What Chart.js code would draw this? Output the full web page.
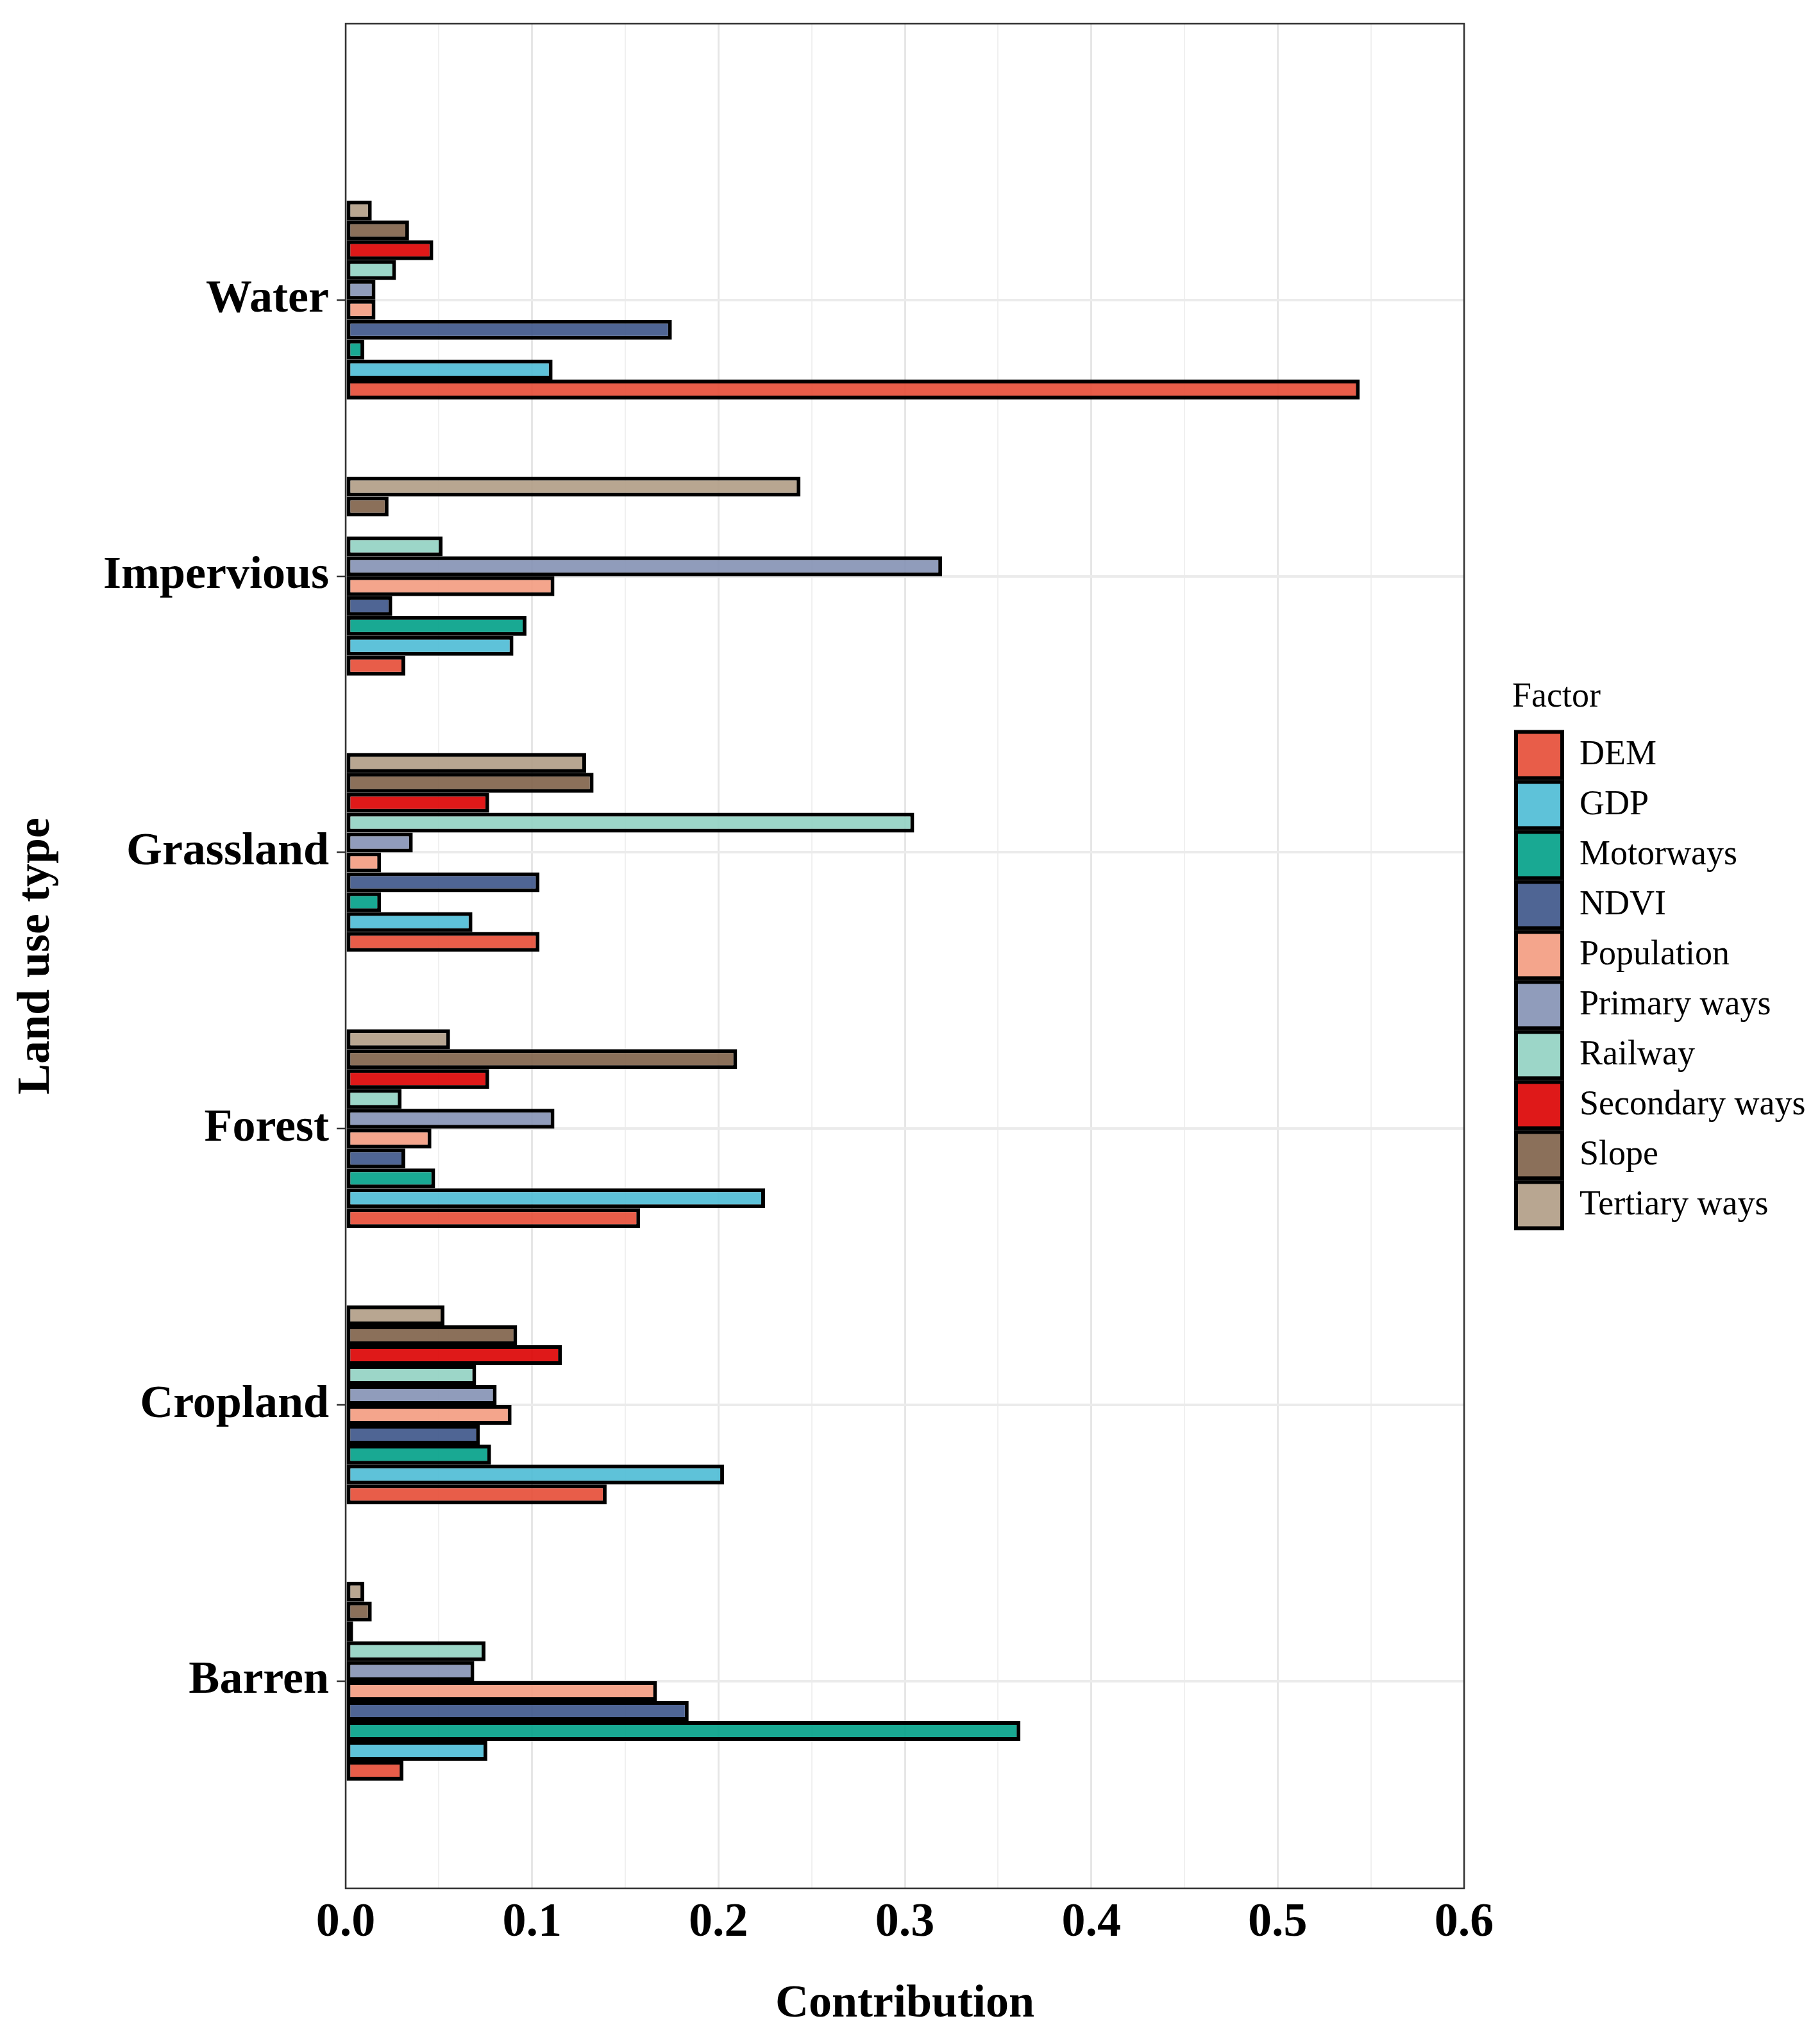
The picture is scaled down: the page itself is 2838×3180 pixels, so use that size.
<!DOCTYPE html>
<html>
<head>
<meta charset="utf-8">
<title>Contribution of factors by land use type</title>
<script src="https://cdn.jsdelivr.net/npm/chart.js@4.4.0/dist/chart.umd.min.js"></script>
<style>
  html, body { margin: 0; padding: 0; background: #fff; }
  #wrap { width: 2838px; height: 3180px; }
</style>
</head>
<body>
<div id="wrap"><canvas id="chart" width="2838" height="3180"></canvas></div>
<script>
// Land use types, top to bottom
const categories = ['Water', 'Impervious', 'Grassland', 'Forest', 'Cropland', 'Barren'];

// Factors in legend order
const factors = ['DEM', 'GDP', 'Motorways', 'NDVI', 'Population', 'Primary ways',
                 'Railway', 'Secondary ways', 'Slope', 'Tertiary ways'];

// Contribution values per factor (same order as categories)
const dem        = [0.544, 0.032, 0.104, 0.158, 0.140, 0.031];
const gdp        = [0.111, 0.090, 0.068, 0.225, 0.203, 0.076];
const motorways  = [0.010, 0.097, 0.019, 0.048, 0.078, 0.362];
const ndvi       = [0.175, 0.025, 0.104, 0.032, 0.072, 0.184];
const population = [0.016, 0.112, 0.019, 0.046, 0.089, 0.167];
const primary    = [0.016, 0.320, 0.036, 0.112, 0.081, 0.069];
const railway    = [0.027, 0.052, 0.305, 0.030, 0.070, 0.075];
const secondary  = [0.047, 0.000, 0.077, 0.077, 0.116, 0.004];
const slope      = [0.034, 0.023, 0.133, 0.210, 0.092, 0.014];
const tertiary   = [0.014, 0.244, 0.129, 0.056, 0.053, 0.010];

// x axis tick labels
const xTicks = ['0.0', '0.1', '0.2', '0.3', '0.4', '0.5', '0.6'];

const seriesValues = [dem, gdp, motorways, ndvi, population, primary, railway, secondary, slope, tertiary];
const palette = ['rgba(230,75,53,0.9)', 'rgba(77,187,213,0.9)', 'rgba(0,160,135,0.9)',
                 'rgba(60,84,136,0.9)', 'rgba(243,155,127,0.9)', 'rgba(132,145,180,0.9)',
                 'rgba(145,209,194,0.9)', 'rgba(220,0,0,0.9)', 'rgba(126,97,72,0.9)',
                 'rgba(176,156,133,0.9)'];

const serif = '"Liberation Serif", "DejaVu Serif", serif';

// Datasets reversed so DEM sits at the bottom of each group; legend is reversed back
const datasets = factors.map((name, i) => ({
    label: name,
    data: seriesValues[i],
    backgroundColor: palette[i],
    borderColor: '#000000',
    borderWidth: 6,
    borderSkipped: false,
    categoryPercentage: 0.72,
    barPercentage: 1.0
})).reverse();

// full panel border + fixed legend geometry
const panelFrame = {
    id: 'panelFrame',
    beforeLayout(chart) {
        const lg = chart.legend;
        if (lg && !lg._fixed) {
            const fit = lg.fit.bind(lg);
            lg.fit = function() { fit(); this.width = 555; };
            lg._fixed = true;
        }
    },
    afterLayout(chart) {
        if (chart.legend) chart.legend.left += 75;
    },
    afterDatasetsDraw(chart) {
        const a = chart.chartArea;
        const ctx = chart.ctx;
        ctx.save();
        ctx.strokeStyle = '#333333';
        ctx.lineWidth = 2.5;
        ctx.strokeRect(a.left, a.top, a.right - a.left, a.bottom - a.top);
        ctx.restore();
    }
};

const isMajor = v => Math.abs(v * 10 - Math.round(v * 10)) < 1e-6;

new Chart(document.getElementById('chart'), {
    type: 'bar',
    data: { labels: categories, datasets: datasets },
    plugins: [panelFrame],
    options: {
        indexAxis: 'y',
        responsive: false,
        devicePixelRatio: 1,
        animation: false,
        layout: { padding: { top: 37, left: 0, right: 0, bottom: 0 } },
        scales: {
            x: {
                type: 'linear',
                position: 'bottom',
                min: 0,
                max: 0.6,
                afterFit: s => { s.height = 235; },
                border: { display: false },
                grid: {
                    drawTicks: false,
                    color: c => (c.tick && isMajor(c.tick.value)) ? '#E6E6E6' : '#F0F0F0',
                    lineWidth: c => (c.tick && isMajor(c.tick.value)) ? 3 : 2
                },
                ticks: {
                    stepSize: 0.05,
                    autoSkip: false,
                    maxRotation: 0,
                    padding: 10,
                    color: '#000000',
                    font: { family: serif, size: 74, weight: 'bold' },
                    callback: v => isMajor(v) ? xTicks[Math.round(v * 10)] : ''
                },
                title: {
                    display: true,
                    text: 'Contribution',
                    color: '#000000',
                    font: { family: serif, size: 72, weight: 'bold' },
                    padding: { top: 0, bottom: 10 }
                }
            },
            y: {
                offset: true,
                afterFit: s => { s.width = 539; s.paddingTop = 0; s.paddingBottom = 0; },
                // one extra unit above Water, three quarters below Barren
                afterBuildTicks: s => { s._startValue = -1; s._valueRange = 6.75; },
                border: { display: false },
                grid: {
                    offset: false,
                    color: '#EBEBEB',
                    lineWidth: 4,
                    tickColor: '#333333',
                    tickWidth: 2.5,
                    tickLength: 14
                },
                ticks: {
                    padding: 12,
                    color: '#000000',
                    font: { family: serif, size: 72, weight: 'bold' }
                },
                title: {
                    display: true,
                    text: 'Land use type',
                    color: '#000000',
                    font: { family: serif, size: 72, weight: 'bold' },
                    padding: { top: 14, bottom: 0 }
                }
            }
        },
        plugins: {
            tooltip: { enabled: false },
            legend: {
                position: 'right',
                align: 'center',
                fullSize: false,
                reverse: true,
                title: {
                    display: true,
                    text: 'Factor',
                    position: 'start',
                    color: '#000000',
                    font: { family: serif, size: 54 },
                    padding: { top: 0, bottom: 10 }
                },
                labels: {
                    boxWidth: 72,
                    boxHeight: 72,
                    padding: 6,
                    color: '#000000',
                    font: { family: serif, size: 54 }
                }
            }
        }
    }
});
</script>
</body>
</html>
